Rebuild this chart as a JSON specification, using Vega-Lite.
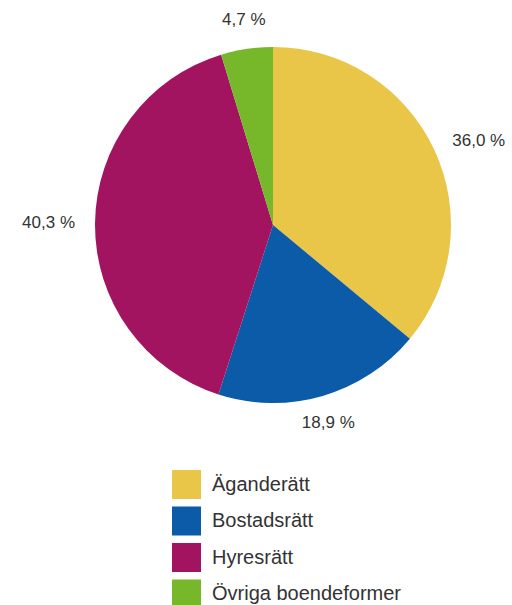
{
  "$schema": "https://vega.github.io/schema/vega-lite/v6.json",
  "width": 478,
  "height": 450,
  "autosize": "none",
  "padding": {"left": 34, "top": 0, "right": 0, "bottom": 155},
  "background": "white",
  "data": {
    "values": [
      {"i": 1, "form": "Äganderätt", "share": 36.0},
      {"i": 2, "form": "Bostadsrätt", "share": 18.9},
      {"i": 3, "form": "Hyresrätt", "share": 40.3},
      {"i": 4, "form": "Övriga boendeformer", "share": 4.7}
    ]
  },
  "transform": [
    {"calculate": "replace(format(datum.share, '.1f'), '.', ',') + ' %'", "as": "label"}
  ],
  "encoding": {
    "theta": {"field": "share", "type": "quantitative", "stack": true},
    "order": {"field": "i", "type": "quantitative"}
  },
  "layer": [
    {
      "mark": {"type": "arc", "outerRadius": 178, "stroke": null},
      "encoding": {
        "color": {
          "field": "form",
          "type": "nominal",
          "sort": ["Äganderätt", "Bostadsrätt", "Hyresrätt", "Övriga boendeformer"],
          "scale": {
            "domain": ["Äganderätt", "Bostadsrätt", "Hyresrätt", "Övriga boendeformer"],
            "range": ["#E9C548", "#0B5BA8", "#A2145F", "#77B82B"]
          },
          "legend": {
            "title": null,
            "orient": "none",
            "legendX": 138,
            "legendY": 470,
            "symbolType": "square",
            "symbolSize": 841,
            "symbolStrokeWidth": 0,
            "symbolOpacity": 1,
            "labelFont": "Liberation Sans",
            "labelFontSize": 20,
            "labelColor": "#333333",
            "labelOffset": 11,
            "rowPadding": 7.5,
            "padding": 0,
            "labelLimit": 400
          }
        }
      }
    },
    {
      "mark": {
        "type": "text",
        "radius": 198,
        "font": "Liberation Sans",
        "fontSize": 17,
        "color": "#333333",
        "align": {"expr": "(datum.share_start + datum.share_end) / 200 > 0.125 && (datum.share_start + datum.share_end) / 200 < 0.375 ? 'left' : ((datum.share_start + datum.share_end) / 200 > 0.625 && (datum.share_start + datum.share_end) / 200 < 0.875 ? 'right' : 'center')"},
        "baseline": {"expr": "(datum.share_start + datum.share_end) / 200 <= 0.125 || (datum.share_start + datum.share_end) / 200 >= 0.875 ? 'bottom' : ((datum.share_start + datum.share_end) / 200 >= 0.375 && (datum.share_start + datum.share_end) / 200 <= 0.625 ? 'top' : 'middle')"}
      },
      "encoding": {
        "text": {"field": "label", "type": "nominal"}
      }
    }
  ],
  "config": {"view": {"stroke": null}}
}
